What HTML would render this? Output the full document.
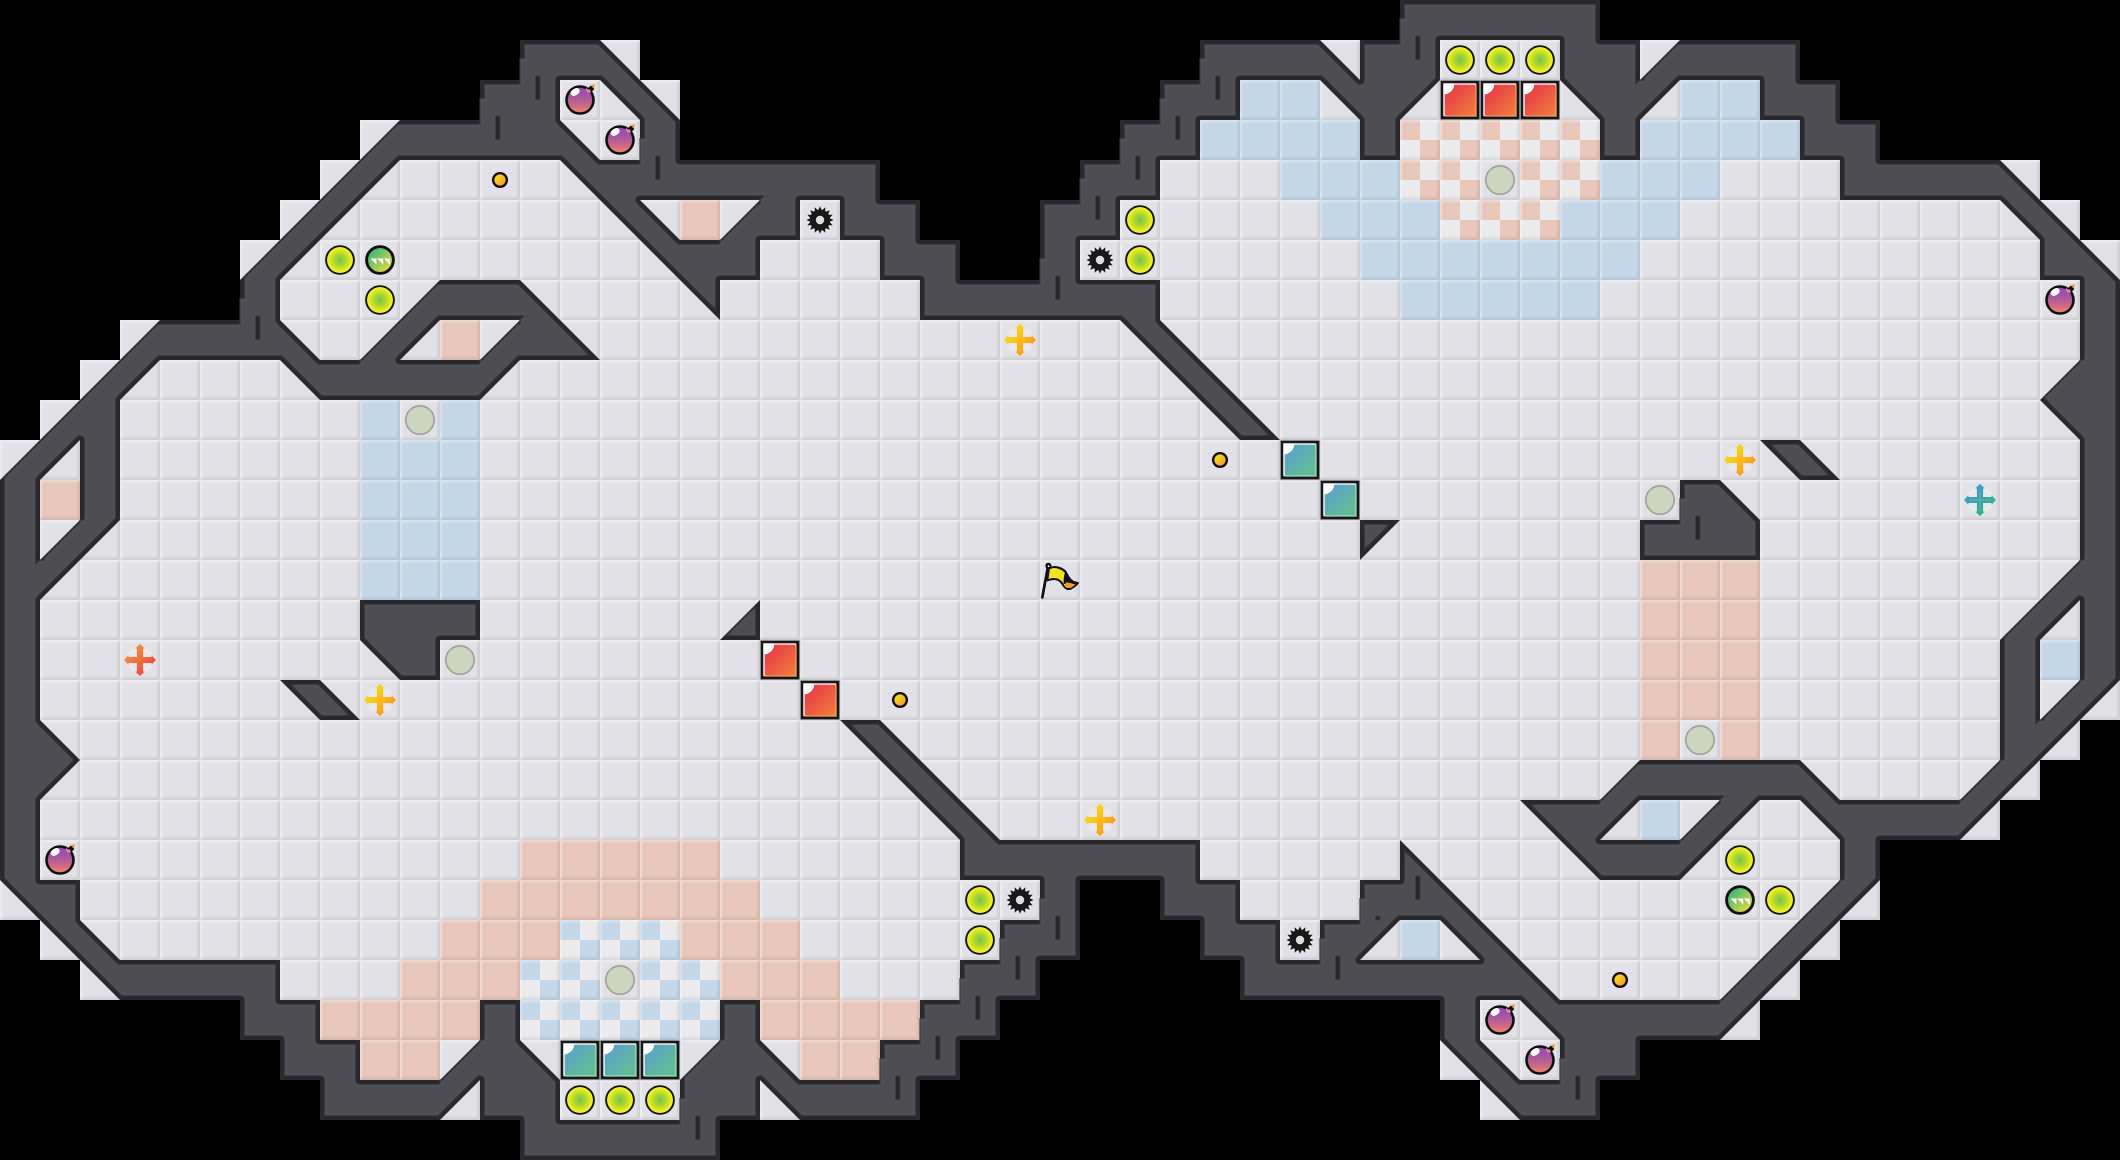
<!DOCTYPE html>
<html lang="en"><head><meta charset="utf-8"><title>Map</title>
<style>html,body{margin:0;padding:0;background:#000;overflow:hidden}svg{display:block}</style></head><body>
<svg width="2120" height="1160" viewBox="0 0 2120 1160">
<defs>
<linearGradient id="bl" x1="0" y1="0" x2="1" y2="0"><stop offset="0" stop-color="#fff" stop-opacity=".42"/><stop offset="1" stop-color="#fff" stop-opacity="0"/></linearGradient>
<linearGradient id="bt" x1="0" y1="0" x2="0" y2="1"><stop offset="0" stop-color="#fff" stop-opacity=".42"/><stop offset="1" stop-color="#fff" stop-opacity="0"/></linearGradient>
<linearGradient id="br" x1="0" y1="0" x2="1" y2="0"><stop offset="0" stop-color="#1e1e46" stop-opacity="0"/><stop offset="1" stop-color="#1e1e46" stop-opacity=".13"/></linearGradient>
<linearGradient id="bb" x1="0" y1="0" x2="0" y2="1"><stop offset="0" stop-color="#1e1e46" stop-opacity="0"/><stop offset="1" stop-color="#1e1e46" stop-opacity=".13"/></linearGradient>
<g id="bev">
<path d="M0,0H40L38,2H2z" fill="#fff" fill-opacity=".30"/>
<path d="M2,2H38L37,3H3z" fill="#fff" fill-opacity=".12"/>
<path d="M0,0L2,2V38L0,40z" fill="#fff" fill-opacity=".30"/>
<path d="M2,2L3,3V37L2,38z" fill="#fff" fill-opacity=".12"/>
<path d="M0,40H40L37.6,37.6H2.4z" fill="#16162a" fill-opacity=".078"/>
<path d="M2.4,37.6H37.6L36.6,36.6H3.4z" fill="#16162a" fill-opacity=".03"/>
<path d="M40,0V40L37.6,37.6V2.4z" fill="#16162a" fill-opacity=".078"/>
<path d="M37.6,2.4V37.6L36.6,36.6V3.4z" fill="#16162a" fill-opacity=".03"/>
<rect x="7.5" y="7.5" width="26" height="26" fill="none" stroke="#fff" stroke-opacity=".05" stroke-width="1"/>
</g>
<pattern id="pf" width="40" height="40" patternUnits="userSpaceOnUse"><rect width="40" height="40" fill="#e2e1e7"/><use href="#bev"/></pattern>
<pattern id="pb" width="40" height="40" patternUnits="userSpaceOnUse"><rect width="40" height="40" fill="#c3d7e8"/><use href="#bev"/></pattern>
<pattern id="pp" width="40" height="40" patternUnits="userSpaceOnUse"><rect width="40" height="40" fill="#e8c7ba"/><use href="#bev"/></pattern>
<pattern id="pc" width="40" height="40" patternUnits="userSpaceOnUse"><rect width="40" height="40" fill="#ebebed"/><rect width="20" height="20" fill="#e8c7ba"/><rect x="20" y="20" width="20" height="20" fill="#e8c7ba"/><use href="#bev"/></pattern>
<pattern id="pk" width="40" height="40" patternUnits="userSpaceOnUse"><rect width="40" height="40" fill="#ebebed"/><rect width="20" height="20" fill="#c3d7e8"/><rect x="20" y="20" width="20" height="20" fill="#c3d7e8"/><use href="#bev"/></pattern>
<radialGradient id="gy"><stop offset="0" stop-color="#6cc644"/><stop offset=".45" stop-color="#b4d832"/><stop offset=".85" stop-color="#eef020"/><stop offset="1" stop-color="#f6f61a"/></radialGradient>
<linearGradient id="gg" x1="0" y1="0" x2="1" y2="1"><stop offset=".1" stop-color="#2cb67c"/><stop offset=".5" stop-color="#8cc860"/><stop offset=".9" stop-color="#f4d640"/></linearGradient>
<linearGradient id="gr" x1="0" y1="0" x2="1" y2="1"><stop offset="0" stop-color="#e62e4c"/><stop offset="1" stop-color="#f2803a"/></linearGradient>
<linearGradient id="gb" x1="0" y1="0" x2="1" y2="1"><stop offset="0" stop-color="#5a9cd6"/><stop offset="1" stop-color="#64c488"/></linearGradient>
<linearGradient id="gbomb" x1="0" y1="0" x2="0" y2="1"><stop offset=".1" stop-color="#9648b4"/><stop offset=".5" stop-color="#b25c96"/><stop offset="1" stop-color="#f48468"/></linearGradient>
<linearGradient id="gcoin" x1="0" y1="0" x2="1" y2="1"><stop offset=".15" stop-color="#f4e41c"/><stop offset=".85" stop-color="#f59a30"/></linearGradient>
<linearGradient id="gya" x1="0" y1="0" x2="1" y2="1"><stop offset=".2" stop-color="#f2e01c"/><stop offset=".8" stop-color="#ff981c"/></linearGradient>
<linearGradient id="gta" x1="0" y1="0" x2="1" y2="1"><stop offset=".2" stop-color="#3a9ccc"/><stop offset=".8" stop-color="#2cba7c"/></linearGradient>
<linearGradient id="goa" x1="0" y1="0" x2="1" y2="1"><stop offset=".2" stop-color="#f4903c"/><stop offset=".8" stop-color="#ee4a44"/></linearGradient>
<g id="yball"><circle r="13.9" fill="url(#gy)" stroke="#121018" stroke-width="1.9"/></g>
<g id="gball"><circle r="13.4" fill="url(#gg)" stroke="#121212" stroke-width="2.9"/><path d="M-9.5,-1.6h6v6zM-2.8,-1.6h6v6zM3.9,-1.6h6v6z" fill="#fff"/></g>
<g id="ghost"><circle r="14.2" fill="#cbd5bd" stroke="#a2a69f" stroke-width="1.8"/></g>
<g id="coin"><circle r="6.9" fill="url(#gcoin)" stroke="#120e14" stroke-width="2.4"/></g>
<g id="bomb"><rect x="11.6" y="-15.6" width="3" height="3" fill="#f59a20"/><path d="M7.2,-11.2l3.6,-3.4l3.6,3.6l-3.4,3.6z" fill="#101210"/><circle r="13.5" fill="url(#gbomb)" stroke="#101210" stroke-width="2.6"/><ellipse cx="-4.8" cy="-8" rx="4.8" ry="3.2" fill="#fff" transform="rotate(-32 -4.8 -8)"/><circle cx="8.8" cy="-8.8" r="1.9" fill="#f07aa8"/><circle cx="6.6" cy="-10.4" r="1" fill="#f6a8c8"/></g>
<g id="gear"><path d="M0.00,-13.70 1.87,-9.42 5.24,-12.66 5.33,-7.98 9.69,-9.69 7.98,-5.33 12.66,-5.24 9.42,-1.87 13.70,0.00 9.42,1.87 12.66,5.24 7.98,5.33 9.69,9.69 5.33,7.98 5.24,12.66 1.87,9.42 0.00,13.70 -1.87,9.42 -5.24,12.66 -5.33,7.98 -9.69,9.69 -7.98,5.33 -12.66,5.24 -9.42,1.87 -13.70,0.00 -9.42,-1.87 -12.66,-5.24 -7.98,-5.33 -9.69,-9.69 -5.33,-7.98 -5.24,-12.66 -1.87,-9.42Z" fill="#181818"/><circle r="10.4" fill="#181818"/><circle r="4.2" fill="#e0e0e4"/></g>
<g id="blk"><rect x="-19.3" y="-19.3" width="38.6" height="38.6" fill="#18181a"/><rect x="-19.6" y="-19.6" width="39.2" height="39.2" fill="none" stroke="#555" stroke-opacity=".35" stroke-width="1.2"/></g>
<g id="rblock"><use href="#blk"/><rect x="-16.2" y="-16.2" width="32.4" height="32.4" fill="url(#gr)"/><path d="M-16,16v-32h32" fill="none" stroke="#fff" stroke-width="1.6" stroke-opacity=".85"/><path d="M-16,16h32v-32" fill="none" stroke="#ffb070" stroke-width="1.6" stroke-opacity=".6"/><path d="M-16.2,-16.2h10.6a10.6,10.6 0 0 1 -10.6,10.6z" fill="#fff"/></g>
<g id="bblock"><use href="#blk"/><rect x="-16.2" y="-16.2" width="32.4" height="32.4" fill="url(#gb)"/><path d="M-16,16v-32h32" fill="none" stroke="#fff" stroke-width="1.6" stroke-opacity=".85"/><path d="M-16,16h32v-32" fill="none" stroke="#b8f0d0" stroke-width="1.6" stroke-opacity=".6"/><path d="M-16.2,-16.2h10.6a10.6,10.6 0 0 1 -10.6,10.6z" fill="#fff"/></g>
<g id="halo"><circle r="13" fill="#fff" fill-opacity=".28"/></g>
<g id="yarrow"><use href="#halo"/><path d="M-3.10,-3.10 -3.10,-11.60 -4.80,-11.60 0.00,-15.90 4.80,-11.60 3.10,-11.60 3.10,-3.10 3.10,-3.10 11.60,-3.10 11.60,-4.80 15.90,-0.00 11.60,4.80 11.60,3.10 3.10,3.10 3.10,3.10 3.10,11.60 4.80,11.60 0.00,15.90 -4.80,11.60 -3.10,11.60 -3.10,3.10 -3.10,3.10 -11.60,3.10 -11.60,4.80 -15.90,0.00 -11.60,-4.80 -11.60,-3.10 -3.10,-3.10Z" fill="url(#gya)"/></g>
<g id="tarrow"><use href="#halo"/><path d="M-3.10,-3.10 -3.10,-11.60 -4.80,-11.60 0.00,-15.90 4.80,-11.60 3.10,-11.60 3.10,-3.10 3.10,-3.10 11.60,-3.10 11.60,-4.80 15.90,-0.00 11.60,4.80 11.60,3.10 3.10,3.10 3.10,3.10 3.10,11.60 4.80,11.60 0.00,15.90 -4.80,11.60 -3.10,11.60 -3.10,3.10 -3.10,3.10 -11.60,3.10 -11.60,4.80 -15.90,0.00 -11.60,-4.80 -11.60,-3.10 -3.10,-3.10Z" fill="url(#gta)"/><path d="M0,-11v22M-11,0h22" stroke="#8a9ab8" stroke-width="1.6" stroke-opacity=".7" fill="none"/></g>
<g id="oarrow"><use href="#halo"/><path d="M-3.10,-3.10 -3.10,-11.60 -4.80,-11.60 0.00,-15.90 4.80,-11.60 3.10,-11.60 3.10,-3.10 3.10,-3.10 11.60,-3.10 11.60,-4.80 15.90,-0.00 11.60,4.80 11.60,3.10 3.10,3.10 3.10,3.10 3.10,11.60 4.80,11.60 0.00,15.90 -4.80,11.60 -3.10,11.60 -3.10,3.10 -3.10,3.10 -11.60,3.10 -11.60,4.80 -15.90,0.00 -11.60,-4.80 -11.60,-3.10 -3.10,-3.10Z" fill="url(#goa)"/></g>
<g id="flag"><path d="M-17.9,18.6L-12.2,-12.5" stroke="#0c0c0c" stroke-width="2.6" fill="none"/><circle cx="-11.6" cy="-14.2" r="3" fill="#0c0c0c"/><circle cx="-11.4" cy="-13.8" r=".9" fill="#fff"/>
<path d="M-11,-11.4C-8,-13 -5,-13.2 -2,-12.5C2,-11.5 4.5,-9.5 5.8,-7.8C7,-6 7.8,-4 8.8,-2.6C10,-0.6 11.5,.9 13.1,1.7C14.6,2.4 16,2.8 17.8,3C15.8,5.4 13.5,7.4 10.9,8.6C9.4,9.2 7.8,9.2 6.6,8.6C5.2,7.9 4.4,7 3.6,6C2.6,4.6 1.6,2.6 .2,1.3C-1.8,-.4 -4,-1 -6.3,-.9C-8.6,-.8 -10.8,-.4 -12.8,.4z" fill="#f2e41c" stroke="#100c1c" stroke-width="2" stroke-linejoin="round"/>
<path d="M5.8,-7.8C7,-6 7.8,-4 8.8,-2.6C10,-0.6 11.5,.9 13.1,1.7C14.6,2.4 16,2.8 17.8,3L15.3,4.6L7,2.4L4.3,4z" fill="#15102a"/>
<path d="M6.6,2.6L15.2,4.7C13.6,6 12.4,6.9 10.6,7.7C9.4,8.2 8,8.2 7,7.7C6,7.2 5.2,6.2 4.6,5.4z" fill="#f59a20"/>
<path d="M5.8,-7.8C4.8,-4 4.4,0 4.4,4" stroke="#100c1c" stroke-width="1.8" fill="none"/>
</g>
</defs>
<rect width="2120" height="1160" fill="#000"/>
<path d="M600,40h40v40h-40zM1320,40h40v40h-40zM1440,40h120v40h-120zM1640,40h40v40h-40zM560,80h120v40h-120zM1320,80h40v40h-40zM1400,80h200v40h-200zM1640,80h40v40h-40zM360,120h40v40h-40zM560,120h80v40h-80zM320,160h280v40h-280zM1160,160h120v40h-120zM1480,160h40v40h-40zM1720,160h120v40h-120zM2000,160h40v40h-40zM280,200h400v40h-400zM720,200h40v40h-40zM800,200h40v40h-40zM1120,200h200v40h-200zM1680,200h400v40h-400zM240,240h440v40h-440zM760,240h120v40h-120zM1080,240h280v40h-280zM1640,240h400v40h-400zM2080,240h40v40h-40zM280,280h160v40h-160zM520,280h400v40h-400zM1160,280h240v40h-240zM1600,280h480v40h-480zM120,320h40v40h-40zM280,320h160v40h-160zM480,320h40v40h-40zM560,320h1520v40h-1520zM80,360h240v40h-240zM480,360h1600v40h-1600zM40,400h40v40h-40zM120,400h240v40h-240zM400,400h40v40h-40zM480,400h1600v40h-1600zM0,440h80v40h-80zM120,440h240v40h-240zM480,440h1600v40h-1600zM120,480h240v40h-240zM480,480h1200v40h-1200zM1720,480h360v40h-360zM40,520h320v40h-320zM480,520h1160v40h-1160zM1760,520h320v40h-320zM40,560h320v40h-320zM480,560h1160v40h-1160zM1760,560h320v40h-320zM40,600h320v40h-320zM480,600h1160v40h-1160zM1760,600h320v40h-320zM40,640h360v40h-360zM440,640h1200v40h-1200zM1760,640h240v40h-240zM40,680h1600v40h-1600zM1760,680h240v40h-240zM2040,680h80v40h-80zM40,720h1600v40h-1600zM1680,720h40v40h-40zM1760,720h240v40h-240zM2040,720h40v40h-40zM40,760h1600v40h-1600zM1800,760h240v40h-240zM40,800h1520v40h-1520zM1600,800h40v40h-40zM1680,800h160v40h-160zM1960,800h40v40h-40zM40,840h480v40h-480zM720,840h240v40h-240zM1200,840h400v40h-400zM1680,840h160v40h-160zM0,880h40v40h-40zM80,880h400v40h-400zM760,880h280v40h-280zM1240,880h120v40h-120zM1440,880h440v40h-440zM40,920h400v40h-400zM800,920h200v40h-200zM1280,920h40v40h-40zM1360,920h40v40h-40zM1440,920h400v40h-400zM80,960h40v40h-40zM280,960h120v40h-120zM600,960h40v40h-40zM840,960h120v40h-120zM1520,960h280v40h-280zM1480,1000h80v40h-80zM1720,1000h40v40h-40zM440,1040h40v40h-40zM520,1040h200v40h-200zM760,1040h40v40h-40zM1440,1040h120v40h-120zM440,1080h40v40h-40zM560,1080h120v40h-120zM760,1080h40v40h-40zM1480,1080h40v40h-40z" fill="url(#pf)"/>
<path d="M1240,80h80v40h-80zM1680,80h80v40h-80zM1200,120h160v40h-160zM1640,120h160v40h-160zM1280,160h120v40h-120zM1600,160h120v40h-120zM1320,200h120v40h-120zM1560,200h120v40h-120zM1360,240h280v40h-280zM1400,280h200v40h-200zM360,400h40v40h-40zM440,400h40v40h-40zM360,440h120v40h-120zM360,480h120v40h-120zM360,520h120v40h-120zM360,560h120v40h-120zM2040,640h40v40h-40zM1640,800h40v40h-40zM1400,920h40v40h-40z" fill="url(#pb)"/>
<path d="M680,200h40v40h-40zM440,320h40v40h-40zM40,480h40v40h-40zM1640,560h120v40h-120zM1640,600h120v40h-120zM1640,640h120v40h-120zM1640,680h120v40h-120zM1640,720h40v40h-40zM1720,720h40v40h-40zM520,840h200v40h-200zM480,880h280v40h-280zM440,920h120v40h-120zM680,920h120v40h-120zM400,960h120v40h-120zM720,960h120v40h-120zM320,1000h160v40h-160zM760,1000h160v40h-160zM360,1040h80v40h-80zM800,1040h80v40h-80z" fill="url(#pp)"/>
<path d="M1400,120h200v40h-200zM1400,160h80v40h-80zM1520,160h80v40h-80zM1440,200h120v40h-120z" fill="url(#pc)"/>
<path d="M560,920h120v40h-120zM520,960h80v40h-80zM640,960h80v40h-80zM520,1000h200v40h-200z" fill="url(#pk)"/>
<path d="M160,320 120,360 80,400 40,440 0,480 0,520 0,560 0,600 0,640 0,680 0,720 0,760 0,800 0,840 0,880 40,920 80,960 120,1000 160,1000 200,1000 240,1000 240,1040 280,1040 280,1080 320,1080 320,1120 360,1120 400,1120 440,1120 480,1080 480,1120 520,1120 520,1160 560,1160 600,1160 640,1160 680,1160 720,1160 720,1120 760,1120 760,1080 800,1120 840,1120 880,1120 920,1120 920,1080 960,1080 960,1040 1000,1040 1000,1000 1040,1000 1040,960 1080,960 1080,920 1080,880 1120,880 1160,880 1160,920 1200,920 1200,960 1240,960 1240,1000 1280,1000 1320,1000 1360,1000 1400,1000 1440,1000 1440,1040 1480,1080 1520,1120 1560,1120 1600,1120 1600,1080 1640,1080 1640,1040 1680,1040 1720,1040 1760,1000 1800,960 1840,920 1880,880 1880,840 1920,840 1960,840 2000,800 2040,760 2080,720 2120,680 2120,640 2120,600 2120,560 2120,520 2120,480 2120,440 2120,400 2120,360 2120,320 2120,280 2080,240 2040,200 2000,160 1960,160 1920,160 1880,160 1880,120 1840,120 1840,80 1800,80 1800,40 1760,40 1720,40 1680,40 1640,80 1640,40 1600,40 1600,0 1560,0 1520,0 1480,0 1440,0 1400,0 1400,40 1360,40 1360,80 1320,40 1280,40 1240,40 1200,40 1200,80 1160,80 1160,120 1120,120 1120,160 1080,160 1080,200 1040,200 1040,240 1040,280 1000,280 960,280 960,240 920,240 920,200 880,200 880,160 840,160 800,160 760,160 720,160 680,160 680,120 640,80 600,40 560,40 520,40 520,80 480,80 480,120 440,120 400,120 360,160 320,200 280,240 240,280 240,320 200,320ZM640,1120 600,1120 560,1120 560,1080 520,1040 520,1000 480,1000 480,1040 440,1080 400,1080 360,1080 360,1040 320,1040 320,1000 280,1000 280,960 240,960 200,960 160,960 120,960 80,920 80,880 40,880 40,840 40,800 80,760 40,720 40,680 40,640 40,600 80,560 120,520 120,480 120,440 120,400 160,360 200,360 240,360 280,360 320,400 360,400 400,400 440,400 480,400 520,360 560,360 600,360 560,320 520,280 480,280 440,280 400,320 360,360 320,360 280,320 280,280 320,240 360,200 400,160 440,160 480,160 520,160 560,160 600,200 640,240 680,280 720,320 720,280 760,280 760,240 800,240 800,200 840,200 840,240 880,240 880,280 920,280 920,320 960,320 1000,320 1040,320 1080,320 1120,320 1160,360 1200,400 1240,440 1280,440 1240,400 1200,360 1160,320 1160,280 1120,280 1080,280 1080,240 1120,240 1120,200 1160,200 1160,160 1200,160 1200,120 1240,120 1240,80 1280,80 1320,80 1360,120 1360,160 1400,160 1400,120 1440,80 1440,40 1480,40 1520,40 1560,40 1560,80 1600,120 1600,160 1640,160 1640,120 1680,80 1720,80 1760,80 1760,120 1800,120 1800,160 1840,160 1840,200 1880,200 1920,200 1960,200 2000,200 2040,240 2040,280 2080,280 2080,320 2080,360 2040,400 2080,440 2080,480 2080,520 2080,560 2040,600 2000,640 2000,680 2000,720 2000,760 1960,800 1920,800 1880,800 1840,800 1800,760 1760,760 1720,760 1680,760 1640,760 1600,800 1560,800 1520,800 1560,840 1600,880 1640,880 1680,880 1720,840 1760,800 1800,800 1840,840 1840,880 1800,920 1760,960 1720,1000 1680,1000 1640,1000 1600,1000 1560,1000 1520,960 1480,920 1440,880 1400,840 1400,880 1360,880 1360,920 1320,920 1320,960 1280,960 1280,920 1240,920 1240,880 1200,880 1200,840 1160,840 1120,840 1080,840 1040,840 1000,840 960,800 920,760 880,720 840,720 880,760 920,800 960,840 960,880 1000,880 1040,880 1040,920 1000,920 1000,960 960,960 960,1000 920,1000 920,1040 880,1040 880,1080 840,1080 800,1080 760,1040 760,1000 720,1000 720,1040 680,1080 680,1120ZM680,200 720,200 760,200 720,240 680,240 640,200ZM560,80 600,80 640,120 640,160 600,160 560,120ZM40,560 40,520 40,480 80,440 80,480 80,520ZM520,320 480,360 440,360 400,360 440,320 480,320ZM1520,1000 1560,1040 1560,1080 1520,1080 1480,1040 1480,1000ZM1360,960 1400,920 1440,920 1480,960 1440,960 1400,960ZM1600,840 1640,800 1680,800 1720,800 1680,840 1640,840ZM2040,720 2040,680 2040,640 2080,600 2080,640 2080,680ZM320,680 280,680 320,720 360,720ZM440,680 440,640 480,640 480,600 440,600 400,600 360,600 360,640 400,680ZM760,640 760,600 720,640ZM1360,520 1360,560 1400,520ZM1840,480 1800,440 1760,440 1800,480ZM1760,560 1760,520 1720,480 1680,480 1680,520 1640,520 1640,560 1680,560 1720,560Z" fill="#29292d" fill-rule="evenodd"/>
<path d="M1400,40 1400,44.5 1364.5,44.5 1364.5,80 1364.35,81.16 1363.9,82.25 1363.18,83.18 1362.25,83.9 1361.16,84.35 1360,84.5 1358.84,84.35 1357.75,83.9 1356.82,83.18 1318.14,44.5 1280,44.5 1240,44.5 1204.5,44.5 1204.5,58.5 1200,58.5 1200,80 1200,84.5 1164.5,84.5 1164.5,98.5 1160,98.5 1160,120 1160,124.5 1124.5,124.5 1124.5,138.5 1120,138.5 1120,160 1120,164.5 1084.5,164.5 1084.5,178.5 1080,178.5 1080,200 1080,204.5 1044.5,204.5 1044.5,240 1044.5,258.5 1040,258.5 1040,280 1040,284.5 1000,284.5 960,284.5 958.84,284.35 957.75,283.9 956.82,283.18 956.1,282.25 955.65,281.16 955.5,280 955.5,244.5 920,244.5 918.84,244.35 917.75,243.9 916.82,243.18 916.1,242.25 915.65,241.16 915.5,240 915.5,204.5 880,204.5 878.84,204.35 877.75,203.9 876.82,203.18 876.1,202.25 875.65,201.16 875.5,200 875.5,164.5 840,164.5 800,164.5 760,164.5 720,164.5 680,164.5 678.84,164.35 677.75,163.9 676.82,163.18 676.1,162.25 675.65,161.16 675.5,160 675.5,121.86 636.82,83.18 598.14,44.5 560,44.5 524.5,44.5 524.5,58.5 520,58.5 520,80 520,84.5 484.5,84.5 484.5,98.5 480,98.5 480,120 480,124.5 440,124.5 400,124.5 397.76,124.5 361.13,161.13 321.13,201.13 281.13,241.13 244.5,277.76 244.5,280 244.5,298.5 240,298.5 240,320 240,324.5 200,324.5 160,324.5 157.76,324.5 121.13,361.13 81.13,401.13 41.13,441.13 4.5,477.76 4.5,480 4.5,520 4.5,560 4.5,600 4.5,640 4.5,680 4.5,720 4.5,760 4.5,800 4.5,840 4.5,878.14 43.18,916.82 83.18,956.82 121.86,995.5 160,995.5 200,995.5 240,995.5 241.16,995.65 242.25,996.1 243.18,996.82 243.9,997.75 244.35,998.84 244.5,1000 244.5,1035.5 280,1035.5 281.16,1035.65 282.25,1036.1 283.18,1036.82 283.9,1037.75 284.35,1038.84 284.5,1040 284.5,1075.5 320,1075.5 321.16,1075.65 322.25,1076.1 323.18,1076.82 323.9,1077.75 324.35,1078.84 324.5,1080 324.5,1115.5 360,1115.5 400,1115.5 438.14,1115.5 476.82,1076.82 477.75,1076.1 478.84,1075.65 480,1075.5 481.16,1075.65 482.25,1076.1 483.18,1076.82 483.9,1077.75 484.35,1078.84 484.5,1080 484.5,1115.5 520,1115.5 521.16,1115.65 522.25,1116.1 523.18,1116.82 523.9,1117.75 524.35,1118.84 524.5,1120 524.5,1155.5 560,1155.5 600,1155.5 640,1155.5 680,1155.5 715.5,1155.5 715.5,1120 715.65,1118.84 716.1,1117.75 716.82,1116.82 717.75,1116.1 718.84,1115.65 720,1115.5 755.5,1115.5 755.5,1080 755.65,1078.84 756.1,1077.75 756.82,1076.82 757.75,1076.1 758.84,1075.65 760,1075.5 761.16,1075.65 762.25,1076.1 763.18,1076.82 801.86,1115.5 840,1115.5 880,1115.5 915.5,1115.5 915.5,1080 915.65,1078.84 916.1,1077.75 916.82,1076.82 917.75,1076.1 918.84,1075.65 920,1075.5 955.5,1075.5 955.5,1040 955.65,1038.84 956.1,1037.75 956.82,1036.82 957.75,1036.1 958.84,1035.65 960,1035.5 995.5,1035.5 995.5,1000 995.65,998.84 996.1,997.75 996.82,996.82 997.75,996.1 998.84,995.65 1000,995.5 1035.5,995.5 1035.5,960 1035.65,958.84 1036.1,957.75 1036.82,956.82 1037.75,956.1 1038.84,955.65 1040,955.5 1075.5,955.5 1075.5,920 1075.5,880 1075.65,878.84 1076.1,877.75 1076.82,876.82 1077.75,876.1 1078.84,875.65 1080,875.5 1120,875.5 1160,875.5 1161.16,875.65 1162.25,876.1 1163.18,876.82 1163.9,877.75 1164.35,878.84 1164.5,880 1164.5,915.5 1200,915.5 1201.16,915.65 1202.25,916.1 1203.18,916.82 1203.9,917.75 1204.35,918.84 1204.5,920 1204.5,955.5 1240,955.5 1241.16,955.65 1242.25,956.1 1243.18,956.82 1243.9,957.75 1244.35,958.84 1244.5,960 1244.5,995.5 1280,995.5 1320,995.5 1360,995.5 1400,995.5 1440,995.5 1441.16,995.65 1442.25,996.1 1443.18,996.82 1443.9,997.75 1444.35,998.84 1444.5,1000 1444.5,1038.14 1483.18,1076.82 1521.86,1115.5 1560,1115.5 1595.5,1115.5 1595.5,1080 1595.65,1078.84 1596.1,1077.75 1596.82,1076.82 1597.75,1076.1 1598.84,1075.65 1600,1075.5 1635.5,1075.5 1635.5,1040 1635.65,1038.84 1636.1,1037.75 1636.82,1036.82 1637.75,1036.1 1638.84,1035.65 1640,1035.5 1680,1035.5 1718.14,1035.5 1756.82,996.82 1796.82,956.82 1836.82,916.82 1875.5,878.14 1875.5,840 1875.65,838.84 1876.1,837.75 1876.82,836.82 1877.75,836.1 1878.84,835.65 1880,835.5 1920,835.5 1958.14,835.5 1996.82,796.82 2036.82,756.82 2076.82,716.82 2115.5,678.14 2115.5,640 2115.5,600 2115.5,560 2115.5,520 2115.5,480 2115.5,440 2115.5,400 2115.5,360 2115.5,320 2115.5,281.86 2076.82,243.18 2036.82,203.18 1998.14,164.5 1960,164.5 1920,164.5 1880,164.5 1878.84,164.35 1877.75,163.9 1876.82,163.18 1876.1,162.25 1875.65,161.16 1875.5,160 1875.5,124.5 1840,124.5 1838.84,124.35 1837.75,123.9 1836.82,123.18 1836.1,122.25 1835.65,121.16 1835.5,120 1835.5,84.5 1800,84.5 1798.84,84.35 1797.75,83.9 1796.82,83.18 1796.1,82.25 1795.65,81.16 1795.5,80 1795.5,44.5 1760,44.5 1720,44.5 1680,44.5 1677.76,44.5 1644.5,77.76 1644.5,80 1642.26,80 1641.13,81.13 1640,80 1635.5,84.5 1635.5,80 1635.5,44.5 1600,44.5 1598.84,44.35 1597.75,43.9 1596.82,43.18 1596.1,42.25 1595.65,41.16 1595.5,40 1595.5,4.5 1560,4.5 1520,4.5 1480,4.5 1440,4.5 1404.5,4.5 1404.5,18.5 1400,18.5ZM1360,920 1360,924.5 1324.5,924.5 1324.5,938.5 1320,938.5 1320,960 1320,964.5 1280,964.5 1278.84,964.35 1277.75,963.9 1276.82,963.18 1276.1,962.25 1275.65,961.16 1275.5,960 1275.5,924.5 1240,924.5 1238.84,924.35 1237.75,923.9 1236.82,923.18 1236.1,922.25 1235.65,921.16 1235.5,920 1235.5,884.5 1200,884.5 1198.84,884.35 1197.75,883.9 1196.82,883.18 1196.1,882.25 1195.65,881.16 1195.5,880 1195.5,844.5 1160,844.5 1120,844.5 1080,844.5 1040,844.5 1000,844.5 998.84,844.35 997.75,843.9 996.82,843.18 956.82,803.18 916.82,763.18 878.14,724.5 850.86,724.5 883.18,756.82 923.18,796.82 963.18,836.82 963.9,837.75 964.35,838.84 964.5,840 964.5,875.5 1000,875.5 1040,875.5 1041.16,875.65 1042.25,876.1 1043.18,876.82 1043.9,877.75 1044.35,878.84 1044.5,880 1044.5,898.5 1040,898.5 1040,920 1040,924.5 1004.5,924.5 1004.5,938.5 1000,938.5 1000,960 1000,964.5 964.5,964.5 964.5,978.5 960,978.5 960,1000 960,1004.5 924.5,1004.5 924.5,1018.5 920,1018.5 920,1040 920,1044.5 884.5,1044.5 884.5,1058.5 880,1058.5 880,1080 880,1084.5 840,1084.5 800,1084.5 798.84,1084.35 797.75,1083.9 796.82,1083.18 756.82,1043.18 756.1,1042.25 755.65,1041.16 755.5,1040 755.5,1004.5 724.5,1004.5 724.5,1040 720,1040 721.13,1041.13 684.5,1077.76 684.5,1080 684.5,1098.5 680,1098.5 680,1120 680,1124.5 640,1124.5 600,1124.5 560,1124.5 558.84,1124.35 557.75,1123.9 556.82,1123.18 556.1,1122.25 555.65,1121.16 555.5,1120 555.5,1081.86 516.82,1043.18 516.1,1042.25 515.65,1041.16 515.5,1040 515.5,1004.5 484.5,1004.5 484.5,1040 480,1040 481.13,1041.13 441.13,1081.13 440,1080 440,1084.5 400,1084.5 360,1084.5 358.84,1084.35 357.75,1083.9 356.82,1083.18 356.1,1082.25 355.65,1081.16 355.5,1080 355.5,1044.5 320,1044.5 318.84,1044.35 317.75,1043.9 316.82,1043.18 316.1,1042.25 315.65,1041.16 315.5,1040 315.5,1004.5 280,1004.5 278.84,1004.35 277.75,1003.9 276.82,1003.18 276.1,1002.25 275.65,1001.16 275.5,1000 275.5,964.5 240,964.5 200,964.5 160,964.5 120,964.5 118.84,964.35 117.75,963.9 116.82,963.18 76.82,923.18 76.1,922.25 75.65,921.16 75.5,920 75.5,884.5 40,884.5 38.84,884.35 37.75,883.9 36.82,883.18 36.1,882.25 35.65,881.16 35.5,880 35.5,840 35.5,800 35.65,798.84 36.1,797.75 36.82,796.82 73.64,760 36.82,723.18 36.1,722.25 35.65,721.16 35.5,720 35.5,680 35.5,640 35.5,600 35.65,598.84 36.1,597.75 36.82,596.82 76.82,556.82 115.5,518.14 115.5,480 115.5,440 115.5,400 115.65,398.84 116.1,397.75 116.82,396.82 156.82,356.82 157.75,356.1 158.84,355.65 160,355.5 200,355.5 240,355.5 280,355.5 281.16,355.65 282.25,356.1 283.18,356.82 321.86,395.5 360,395.5 400,395.5 440,395.5 478.14,395.5 516.82,356.82 517.75,356.1 518.84,355.65 520,355.5 560,355.5 589.14,355.5 556.82,323.18 518.14,284.5 480,284.5 440,284.5 437.76,284.5 401.13,321.13 361.13,361.13 360,360 360,364.5 320,364.5 318.84,364.35 317.75,363.9 316.82,363.18 276.82,323.18 276.1,322.25 275.65,321.16 275.5,320 275.5,280 275.65,278.84 276.1,277.75 276.82,276.82 316.82,236.82 356.82,196.82 396.82,156.82 397.75,156.1 398.84,155.65 400,155.5 440,155.5 480,155.5 520,155.5 560,155.5 561.16,155.65 562.25,156.1 563.18,156.82 603.18,196.82 643.18,236.82 683.18,276.82 715.5,309.14 715.5,280 715.65,278.84 716.1,277.75 716.82,276.82 717.75,276.1 718.84,275.65 720,275.5 755.5,275.5 755.5,240 755.65,238.84 756.1,237.75 756.82,236.82 757.75,236.1 758.84,235.65 760,235.5 795.5,235.5 795.5,200 795.65,198.84 796.1,197.75 796.82,196.82 797.75,196.1 798.84,195.65 800,195.5 840,195.5 841.16,195.65 842.25,196.1 843.18,196.82 843.9,197.75 844.35,198.84 844.5,200 844.5,235.5 880,235.5 881.16,235.65 882.25,236.1 883.18,236.82 883.9,237.75 884.35,238.84 884.5,240 884.5,275.5 920,275.5 921.16,275.65 922.25,276.1 923.18,276.82 923.9,277.75 924.35,278.84 924.5,280 924.5,315.5 960,315.5 1000,315.5 1040,315.5 1080,315.5 1120,315.5 1121.16,315.65 1122.25,316.1 1123.18,316.82 1163.18,356.82 1203.18,396.82 1241.86,435.5 1269.14,435.5 1236.82,403.18 1196.82,363.18 1156.82,323.18 1156.1,322.25 1155.65,321.16 1155.5,320 1155.5,284.5 1120,284.5 1080,284.5 1078.84,284.35 1077.75,283.9 1076.82,283.18 1076.1,282.25 1075.65,281.16 1075.5,280 1075.5,240 1075.65,238.84 1076.1,237.75 1076.82,236.82 1077.75,236.1 1078.84,235.65 1080,235.5 1115.5,235.5 1115.5,200 1115.65,198.84 1116.1,197.75 1116.82,196.82 1117.75,196.1 1118.84,195.65 1120,195.5 1155.5,195.5 1155.5,160 1155.65,158.84 1156.1,157.75 1156.82,156.82 1157.75,156.1 1158.84,155.65 1160,155.5 1195.5,155.5 1195.5,120 1195.65,118.84 1196.1,117.75 1196.82,116.82 1197.75,116.1 1198.84,115.65 1200,115.5 1235.5,115.5 1235.5,80 1235.65,78.84 1236.1,77.75 1236.82,76.82 1237.75,76.1 1238.84,75.65 1240,75.5 1280,75.5 1320,75.5 1321.16,75.65 1322.25,76.1 1323.18,76.82 1363.18,116.82 1363.9,117.75 1364.35,118.84 1364.5,120 1364.5,155.5 1395.5,155.5 1395.5,120 1395.65,118.84 1396.1,117.75 1396.82,116.82 1435.5,78.14 1435.5,40 1435.65,38.84 1436.1,37.75 1436.82,36.82 1437.75,36.1 1438.84,35.65 1440,35.5 1480,35.5 1520,35.5 1560,35.5 1561.16,35.65 1562.25,36.1 1563.18,36.82 1563.9,37.75 1564.35,38.84 1564.5,40 1564.5,78.14 1603.18,116.82 1603.9,117.75 1604.35,118.84 1604.5,120 1604.5,155.5 1635.5,155.5 1635.5,120 1635.65,118.84 1636.1,117.75 1636.82,116.82 1676.82,76.82 1677.75,76.1 1678.84,75.65 1680,75.5 1720,75.5 1760,75.5 1761.16,75.65 1762.25,76.1 1763.18,76.82 1763.9,77.75 1764.35,78.84 1764.5,80 1764.5,115.5 1800,115.5 1801.16,115.65 1802.25,116.1 1803.18,116.82 1803.9,117.75 1804.35,118.84 1804.5,120 1804.5,155.5 1840,155.5 1841.16,155.65 1842.25,156.1 1843.18,156.82 1843.9,157.75 1844.35,158.84 1844.5,160 1844.5,195.5 1880,195.5 1920,195.5 1960,195.5 2000,195.5 2001.16,195.65 2002.25,196.1 2003.18,196.82 2043.18,236.82 2043.9,237.75 2044.35,238.84 2044.5,240 2044.5,275.5 2080,275.5 2081.16,275.65 2082.25,276.1 2083.18,276.82 2083.9,277.75 2084.35,278.84 2084.5,280 2084.5,320 2084.5,360 2080,360 2081.13,361.13 2044.31,397.95 2083.18,436.82 2083.9,437.75 2084.35,438.84 2084.5,440 2084.5,480 2084.5,520 2084.5,560 2080,560 2081.13,561.13 2041.13,601.13 2004.5,637.76 2004.5,640 2004.5,680 2004.5,720 2004.5,760 2000,760 2001.13,761.13 1961.13,801.13 1960,800 1960,804.5 1920,804.5 1880,804.5 1840,804.5 1838.84,804.35 1837.75,803.9 1836.82,803.18 1798.14,764.5 1760,764.5 1720,764.5 1680,764.5 1640,764.5 1637.76,764.5 1601.13,801.13 1600,800 1600,804.5 1560,804.5 1530.86,804.5 1563.18,836.82 1601.86,875.5 1640,875.5 1678.14,875.5 1716.82,836.82 1756.82,796.82 1757.75,796.1 1758.84,795.65 1760,795.5 1800,795.5 1801.16,795.65 1802.25,796.1 1803.18,796.82 1843.18,836.82 1843.9,837.75 1844.35,838.84 1844.5,840 1844.5,880 1840,880 1841.13,881.13 1801.13,921.13 1761.13,961.13 1721.13,1001.13 1720,1000 1720,1004.5 1680,1004.5 1640,1004.5 1600,1004.5 1560,1004.5 1558.84,1004.35 1557.75,1003.9 1556.82,1003.18 1516.82,963.18 1476.82,923.18 1436.82,883.18 1404.5,850.86 1404.5,880 1404.35,881.16 1403.9,882.25 1403.18,883.18 1402.25,883.9 1401.16,884.35 1400,884.5 1364.5,884.5 1364.5,898.5 1360,898.5ZM640,160 640,164.5 600,164.5 598.84,164.35 597.75,163.9 596.82,163.18 556.82,123.18 556.1,122.25 555.65,121.16 555.5,120 555.5,80 555.65,78.84 556.1,77.75 556.82,76.82 557.75,76.1 558.84,75.65 560,75.5 600,75.5 601.16,75.65 602.25,76.1 603.18,76.82 643.18,116.82 643.9,117.75 644.35,118.84 644.5,120 644.5,138.5 640,138.5ZM1560,1080 1560,1084.5 1520,1084.5 1518.84,1084.35 1517.75,1083.9 1516.82,1083.18 1476.82,1043.18 1476.1,1042.25 1475.65,1041.16 1475.5,1040 1475.5,1000 1475.65,998.84 1476.1,997.75 1476.82,996.82 1477.75,996.1 1478.84,995.65 1480,995.5 1520,995.5 1521.16,995.65 1522.25,996.1 1523.18,996.82 1563.18,1036.82 1563.9,1037.75 1564.35,1038.84 1564.5,1040 1564.5,1058.5 1560,1058.5ZM35.5,564.5 35.5,560 35.5,520 35.5,480 35.65,478.84 36.1,477.75 36.82,476.82 76.82,436.82 77.75,436.1 78.84,435.65 80,435.5 81.16,435.65 82.25,436.1 83.18,436.82 83.9,437.75 84.35,438.84 84.5,440 84.5,480 84.5,520 80,520 81.13,521.13 44.5,557.76 44.5,560 42.26,560 41.13,561.13 40,560ZM480,364.5 440,364.5 400,364.5 398.84,364.35 397.75,363.9 396.82,363.18 396.1,362.25 395.65,361.16 395.5,360 395.65,358.84 396.1,357.75 396.82,356.82 436.82,316.82 437.75,316.1 438.84,315.65 440,315.5 480,315.5 520,315.5 524.5,315.5 520,320 521.13,321.13 520,322.26 520,324.5 517.76,324.5 481.13,361.13 480,360ZM720,244.5 680,244.5 678.84,244.35 677.75,243.9 676.82,243.18 636.82,203.18 636.1,202.25 635.65,201.16 635.5,200 635.65,198.84 636.1,197.75 636.82,196.82 637.75,196.1 638.84,195.65 640,195.5 680,195.5 720,195.5 760,195.5 764.5,195.5 760,200 761.13,201.13 760,202.26 760,204.5 757.76,204.5 721.13,241.13 720,240ZM1357.75,963.9 1356.82,963.18 1356.1,962.25 1355.65,961.16 1355.5,960 1355.65,958.84 1356.1,957.75 1356.82,956.82 1396.82,916.82 1397.75,916.1 1398.84,915.65 1400,915.5 1440,915.5 1441.16,915.65 1442.25,916.1 1443.18,916.82 1483.18,956.82 1483.9,957.75 1484.35,958.84 1484.5,960 1484.35,961.16 1483.9,962.25 1483.18,963.18 1482.25,963.9 1481.16,964.35 1480,964.5 1440,964.5 1400,964.5 1360,964.5 1358.84,964.35ZM1680,844.5 1640,844.5 1600,844.5 1598.84,844.35 1597.75,843.9 1596.82,843.18 1596.1,842.25 1595.65,841.16 1595.5,840 1595.65,838.84 1596.1,837.75 1596.82,836.82 1636.82,796.82 1637.75,796.1 1638.84,795.65 1640,795.5 1680,795.5 1720,795.5 1724.5,795.5 1720,800 1721.13,801.13 1720,802.26 1720,804.5 1717.76,804.5 1681.13,841.13 1680,840ZM2035.5,724.5 2035.5,720 2035.5,680 2035.5,640 2035.65,638.84 2036.1,637.75 2036.82,636.82 2076.82,596.82 2077.75,596.1 2078.84,595.65 2080,595.5 2081.16,595.65 2082.25,596.1 2083.18,596.82 2083.9,597.75 2084.35,598.84 2084.5,600 2084.5,640 2084.5,680 2080,680 2081.13,681.13 2044.5,717.76 2044.5,720 2042.26,720 2041.13,721.13 2040,720ZM1680,520 1680,524.5 1644.5,524.5 1644.5,555.5 1680,555.5 1720,555.5 1755.5,555.5 1755.5,521.86 1718.14,484.5 1684.5,484.5 1684.5,498.5 1680,498.5ZM321.86,715.5 349.14,715.5 318.14,684.5 290.86,684.5ZM438.84,635.65 440,635.5 475.5,635.5 475.5,604.5 440,604.5 400,604.5 364.5,604.5 364.5,638.14 401.86,675.5 435.5,675.5 435.5,640 435.65,638.84 436.1,637.75 436.82,636.82 437.75,636.1ZM755.5,606.76 726.76,635.5 755.5,635.5ZM1364.5,524.5 1364.5,549.14 1389.14,524.5ZM1801.86,475.5 1829.14,475.5 1798.14,444.5 1770.86,444.5Z" fill="#4e4d53" fill-rule="evenodd" stroke="#3b3a40" stroke-width="1.2" stroke-linejoin="round"/>
<path d="M1401.5,44.5 1401.39,45.07 1401.06,45.56 1400.57,45.89 1400,46 1366,46 1366,80 1365.99,80.2 1365.83,81.36 1365.73,81.74 1365.28,82.82 1365.09,83.16 1364.37,84.1 1364.1,84.37 1363.16,85.09 1362.82,85.28 1361.74,85.73 1361.36,85.83 1360.2,85.99 1359.8,85.99 1358.64,85.83 1358.26,85.73 1357.18,85.28 1356.84,85.09 1355.9,84.37 1355.76,84.24 1317.51,46 1206,46 1206,58.5 1205.89,59.07 1205.56,59.56 1205.07,59.89 1204.5,60 1201.5,60 1201.5,84.5 1201.39,85.07 1201.06,85.56 1200.57,85.89 1200,86 1166,86 1166,98.5 1165.89,99.07 1165.56,99.56 1165.07,99.89 1164.5,100 1161.5,100 1161.5,124.5 1161.39,125.07 1161.06,125.56 1160.57,125.89 1160,126 1126,126 1126,138.5 1125.89,139.07 1125.56,139.56 1125.07,139.89 1124.5,140 1121.5,140 1121.5,164.5 1121.39,165.07 1121.06,165.56 1120.57,165.89 1120,166 1086,166 1086,178.5 1085.89,179.07 1085.56,179.56 1085.07,179.89 1084.5,180 1081.5,180 1081.5,204.5 1081.39,205.07 1081.06,205.56 1080.57,205.89 1080,206 1046,206 1046,258.5 1045.89,259.07 1045.56,259.56 1045.07,259.89 1044.5,260 1041.5,260 1041.5,284.5 1041.39,285.07 1041.06,285.56 1040.57,285.89 1040,286 960,286 959.8,285.99 958.64,285.83 958.26,285.73 957.18,285.28 956.84,285.09 955.9,284.37 955.63,284.1 954.91,283.16 954.72,282.82 954.27,281.74 954.17,281.36 954.01,280.2 954,280 954,246 920,246 919.8,245.99 918.64,245.83 918.26,245.73 917.18,245.28 916.84,245.09 915.9,244.37 915.63,244.1 914.91,243.16 914.72,242.82 914.27,241.74 914.17,241.36 914.01,240.2 914,240 914,206 880,206 879.8,205.99 878.64,205.83 878.26,205.73 877.18,205.28 876.84,205.09 875.9,204.37 875.63,204.1 874.91,203.16 874.72,202.82 874.27,201.74 874.17,201.36 874.01,200.2 874,200 874,166 680,166 679.8,165.99 678.64,165.83 678.26,165.73 677.18,165.28 676.84,165.09 675.9,164.37 675.63,164.1 674.91,163.16 674.72,162.82 674.27,161.74 674.17,161.36 674.01,160.2 674,160 674,122.49 635.76,84.24 597.51,46 526,46 526,58.5 525.89,59.07 525.56,59.56 525.07,59.89 524.5,60 521.5,60 521.5,84.5 521.39,85.07 521.06,85.56 520.57,85.89 520,86 486,86 486,98.5 485.89,99.07 485.56,99.56 485.07,99.89 484.5,100 481.5,100 481.5,124.5 481.39,125.07 481.06,125.56 480.57,125.89 480,126 398.38,126 246,278.38 246,298.5 245.89,299.07 245.56,299.56 245.07,299.89 244.5,300 241.5,300 241.5,324.5 241.39,325.07 241.06,325.56 240.57,325.89 240,326 158.38,326 6,478.38 6,877.51 44.24,915.76 122.49,994 240,994 240.2,994.01 241.36,994.17 241.74,994.27 242.82,994.72 243.16,994.91 244.1,995.63 244.37,995.9 245.09,996.84 245.28,997.18 245.73,998.26 245.83,998.64 245.99,999.8 246,1000 246,1034 280,1034 280.2,1034.01 281.36,1034.17 281.74,1034.27 282.82,1034.72 283.16,1034.91 284.1,1035.63 284.37,1035.9 285.09,1036.84 285.28,1037.18 285.73,1038.26 285.83,1038.64 285.99,1039.8 286,1040 286,1074 320,1074 320.2,1074.01 321.36,1074.17 321.74,1074.27 322.82,1074.72 323.16,1074.91 324.1,1075.63 324.37,1075.9 325.09,1076.84 325.28,1077.18 325.73,1078.26 325.83,1078.64 325.99,1079.8 326,1080 326,1114 437.51,1114 475.76,1075.76 475.9,1075.63 476.84,1074.91 477.18,1074.72 478.26,1074.27 478.64,1074.17 479.8,1074.01 480.2,1074.01 481.36,1074.17 481.74,1074.27 482.82,1074.72 483.16,1074.91 484.1,1075.63 484.37,1075.9 485.09,1076.84 485.28,1077.18 485.73,1078.26 485.83,1078.64 485.99,1079.8 486,1080 486,1114 520,1114 520.2,1114.01 521.36,1114.17 521.74,1114.27 522.82,1114.72 523.16,1114.91 524.1,1115.63 524.37,1115.9 525.09,1116.84 525.28,1117.18 525.73,1118.26 525.83,1118.64 525.99,1119.8 526,1120 526,1154 714,1154 714,1120 714.01,1119.8 714.17,1118.64 714.27,1118.26 714.72,1117.18 714.91,1116.84 715.63,1115.9 715.9,1115.63 716.84,1114.91 717.18,1114.72 718.26,1114.27 718.64,1114.17 719.8,1114.01 720,1114 754,1114 754,1080 754.01,1079.8 754.17,1078.64 754.27,1078.26 754.72,1077.18 754.91,1076.84 755.63,1075.9 755.9,1075.63 756.84,1074.91 757.18,1074.72 758.26,1074.27 758.64,1074.17 759.8,1074.01 760.2,1074.01 761.36,1074.17 761.74,1074.27 762.82,1074.72 763.16,1074.91 764.1,1075.63 764.24,1075.76 802.49,1114 914,1114 914,1080 914.01,1079.8 914.17,1078.64 914.27,1078.26 914.72,1077.18 914.91,1076.84 915.63,1075.9 915.9,1075.63 916.84,1074.91 917.18,1074.72 918.26,1074.27 918.64,1074.17 919.8,1074.01 920,1074 954,1074 954,1040 954.01,1039.8 954.17,1038.64 954.27,1038.26 954.72,1037.18 954.91,1036.84 955.63,1035.9 955.9,1035.63 956.84,1034.91 957.18,1034.72 958.26,1034.27 958.64,1034.17 959.8,1034.01 960,1034 994,1034 994,1000 994.01,999.8 994.17,998.64 994.27,998.26 994.72,997.18 994.91,996.84 995.63,995.9 995.9,995.63 996.84,994.91 997.18,994.72 998.26,994.27 998.64,994.17 999.8,994.01 1000,994 1034,994 1034,960 1034.01,959.8 1034.17,958.64 1034.27,958.26 1034.72,957.18 1034.91,956.84 1035.63,955.9 1035.9,955.63 1036.84,954.91 1037.18,954.72 1038.26,954.27 1038.64,954.17 1039.8,954.01 1040,954 1074,954 1074,880 1074.01,879.8 1074.17,878.64 1074.27,878.26 1074.72,877.18 1074.91,876.84 1075.63,875.9 1075.9,875.63 1076.84,874.91 1077.18,874.72 1078.26,874.27 1078.64,874.17 1079.8,874.01 1080,874 1160,874 1160.2,874.01 1161.36,874.17 1161.74,874.27 1162.82,874.72 1163.16,874.91 1164.1,875.63 1164.37,875.9 1165.09,876.84 1165.28,877.18 1165.73,878.26 1165.83,878.64 1165.99,879.8 1166,880 1166,914 1200,914 1200.2,914.01 1201.36,914.17 1201.74,914.27 1202.82,914.72 1203.16,914.91 1204.1,915.63 1204.37,915.9 1205.09,916.84 1205.28,917.18 1205.73,918.26 1205.83,918.64 1205.99,919.8 1206,920 1206,954 1240,954 1240.2,954.01 1241.36,954.17 1241.74,954.27 1242.82,954.72 1243.16,954.91 1244.1,955.63 1244.37,955.9 1245.09,956.84 1245.28,957.18 1245.73,958.26 1245.83,958.64 1245.99,959.8 1246,960 1246,994 1440,994 1440.2,994.01 1441.36,994.17 1441.74,994.27 1442.82,994.72 1443.16,994.91 1444.1,995.63 1444.37,995.9 1445.09,996.84 1445.28,997.18 1445.73,998.26 1445.83,998.64 1445.99,999.8 1446,1000 1446,1037.51 1522.49,1114 1594,1114 1594,1080 1594.01,1079.8 1594.17,1078.64 1594.27,1078.26 1594.72,1077.18 1594.91,1076.84 1595.63,1075.9 1595.9,1075.63 1596.84,1074.91 1597.18,1074.72 1598.26,1074.27 1598.64,1074.17 1599.8,1074.01 1600,1074 1634,1074 1634,1040 1634.01,1039.8 1634.17,1038.64 1634.27,1038.26 1634.72,1037.18 1634.91,1036.84 1635.63,1035.9 1635.9,1035.63 1636.84,1034.91 1637.18,1034.72 1638.26,1034.27 1638.64,1034.17 1639.8,1034.01 1640,1034 1717.51,1034 1755.76,995.76 1874,877.51 1874,840 1874.01,839.8 1874.17,838.64 1874.27,838.26 1874.72,837.18 1874.91,836.84 1875.63,835.9 1875.9,835.63 1876.84,834.91 1877.18,834.72 1878.26,834.27 1878.64,834.17 1879.8,834.01 1880,834 1957.51,834 1995.76,795.76 2114,677.51 2114,282.49 2075.76,244.24 2035.76,204.24 1997.51,166 1880,166 1879.8,165.99 1878.64,165.83 1878.26,165.73 1877.18,165.28 1876.84,165.09 1875.9,164.37 1875.63,164.1 1874.91,163.16 1874.72,162.82 1874.27,161.74 1874.17,161.36 1874.01,160.2 1874,160 1874,126 1840,126 1839.8,125.99 1838.64,125.83 1838.26,125.73 1837.18,125.28 1836.84,125.09 1835.9,124.37 1835.63,124.1 1834.91,123.16 1834.72,122.82 1834.27,121.74 1834.17,121.36 1834.01,120.2 1834,120 1834,86 1800,86 1799.8,85.99 1798.64,85.83 1798.26,85.73 1797.18,85.28 1796.84,85.09 1795.9,84.37 1795.63,84.1 1794.91,83.16 1794.72,82.82 1794.27,81.74 1794.17,81.36 1794.01,80.2 1794,80 1794,46 1678.38,46 1646,78.38 1646,80 1645.89,80.57 1645.56,81.06 1645.07,81.39 1644.5,81.5 1642.88,81.5 1642.19,82.19 1641.71,82.52 1641.13,82.63 1640.56,82.52 1640.07,82.19 1640,82.12 1636.56,85.56 1636.07,85.89 1635.5,86 1634.93,85.89 1634.44,85.56 1634.11,85.07 1634,84.5 1634,46 1600,46 1599.8,45.99 1598.64,45.83 1598.26,45.73 1597.18,45.28 1596.84,45.09 1595.9,44.37 1595.63,44.1 1594.91,43.16 1594.72,42.82 1594.27,41.74 1594.17,41.36 1594.01,40.2 1594,40 1594,6 1406,6 1406,18.5 1405.89,19.07 1405.56,19.56 1405.07,19.89 1404.5,20 1401.5,20ZM361.5,362.56 361.5,364.5 361.39,365.07 361.06,365.56 360.57,365.89 360,366 320,366 319.8,365.99 318.64,365.83 318.26,365.73 317.18,365.28 316.84,365.09 315.9,364.37 315.76,364.24 275.76,324.24 275.63,324.1 274.91,323.16 274.72,322.82 274.27,321.74 274.17,321.36 274.01,320.2 274,320 274,280 274.01,279.8 274.17,278.64 274.27,278.26 274.72,277.18 274.91,276.84 275.63,275.9 275.76,275.76 315.76,235.76 395.76,155.76 395.9,155.63 396.84,154.91 397.18,154.72 398.26,154.27 398.64,154.17 399.8,154.01 400,154 560,154 560.2,154.01 561.36,154.17 561.74,154.27 562.82,154.72 563.16,154.91 564.1,155.63 564.24,155.76 644.24,235.76 684.24,275.76 714,305.51 714,280 714.01,279.8 714.17,278.64 714.27,278.26 714.72,277.18 714.91,276.84 715.63,275.9 715.9,275.63 716.84,274.91 717.18,274.72 718.26,274.27 718.64,274.17 719.8,274.01 720,274 754,274 754,240 754.01,239.8 754.17,238.64 754.27,238.26 754.72,237.18 754.91,236.84 755.63,235.9 755.9,235.63 756.84,234.91 757.18,234.72 758.26,234.27 758.64,234.17 759.8,234.01 760,234 794,234 794,200 794.01,199.8 794.17,198.64 794.27,198.26 794.72,197.18 794.91,196.84 795.63,195.9 795.9,195.63 796.84,194.91 797.18,194.72 798.26,194.27 798.64,194.17 799.8,194.01 800,194 840,194 840.2,194.01 841.36,194.17 841.74,194.27 842.82,194.72 843.16,194.91 844.1,195.63 844.37,195.9 845.09,196.84 845.28,197.18 845.73,198.26 845.83,198.64 845.99,199.8 846,200 846,234 880,234 880.2,234.01 881.36,234.17 881.74,234.27 882.82,234.72 883.16,234.91 884.1,235.63 884.37,235.9 885.09,236.84 885.28,237.18 885.73,238.26 885.83,238.64 885.99,239.8 886,240 886,274 920,274 920.2,274.01 921.36,274.17 921.74,274.27 922.82,274.72 923.16,274.91 924.1,275.63 924.37,275.9 925.09,276.84 925.28,277.18 925.73,278.26 925.83,278.64 925.99,279.8 926,280 926,314 1120,314 1120.2,314.01 1121.36,314.17 1121.74,314.27 1122.82,314.72 1123.16,314.91 1124.1,315.63 1124.24,315.76 1204.24,395.76 1242.49,434 1265.51,434 1235.76,404.24 1155.76,324.24 1155.63,324.1 1154.91,323.16 1154.72,322.82 1154.27,321.74 1154.17,321.36 1154.01,320.2 1154,320 1154,286 1080,286 1079.8,285.99 1078.64,285.83 1078.26,285.73 1077.18,285.28 1076.84,285.09 1075.9,284.37 1075.63,284.1 1074.91,283.16 1074.72,282.82 1074.27,281.74 1074.17,281.36 1074.01,280.2 1074,280 1074,240 1074.01,239.8 1074.17,238.64 1074.27,238.26 1074.72,237.18 1074.91,236.84 1075.63,235.9 1075.9,235.63 1076.84,234.91 1077.18,234.72 1078.26,234.27 1078.64,234.17 1079.8,234.01 1080,234 1114,234 1114,200 1114.01,199.8 1114.17,198.64 1114.27,198.26 1114.72,197.18 1114.91,196.84 1115.63,195.9 1115.9,195.63 1116.84,194.91 1117.18,194.72 1118.26,194.27 1118.64,194.17 1119.8,194.01 1120,194 1154,194 1154,160 1154.01,159.8 1154.17,158.64 1154.27,158.26 1154.72,157.18 1154.91,156.84 1155.63,155.9 1155.9,155.63 1156.84,154.91 1157.18,154.72 1158.26,154.27 1158.64,154.17 1159.8,154.01 1160,154 1194,154 1194,120 1194.01,119.8 1194.17,118.64 1194.27,118.26 1194.72,117.18 1194.91,116.84 1195.63,115.9 1195.9,115.63 1196.84,114.91 1197.18,114.72 1198.26,114.27 1198.64,114.17 1199.8,114.01 1200,114 1234,114 1234,80 1234.01,79.8 1234.17,78.64 1234.27,78.26 1234.72,77.18 1234.91,76.84 1235.63,75.9 1235.9,75.63 1236.84,74.91 1237.18,74.72 1238.26,74.27 1238.64,74.17 1239.8,74.01 1240,74 1320,74 1320.2,74.01 1321.36,74.17 1321.74,74.27 1322.82,74.72 1323.16,74.91 1324.1,75.63 1324.24,75.76 1364.24,115.76 1364.37,115.9 1365.09,116.84 1365.28,117.18 1365.73,118.26 1365.83,118.64 1365.99,119.8 1366,120 1366,154 1394,154 1394,120 1394.01,119.8 1394.17,118.64 1394.27,118.26 1394.72,117.18 1394.91,116.84 1395.63,115.9 1395.76,115.76 1434,77.51 1434,40 1434.01,39.8 1434.17,38.64 1434.27,38.26 1434.72,37.18 1434.91,36.84 1435.63,35.9 1435.9,35.63 1436.84,34.91 1437.18,34.72 1438.26,34.27 1438.64,34.17 1439.8,34.01 1440,34 1560,34 1560.2,34.01 1561.36,34.17 1561.74,34.27 1562.82,34.72 1563.16,34.91 1564.1,35.63 1564.37,35.9 1565.09,36.84 1565.28,37.18 1565.73,38.26 1565.83,38.64 1565.99,39.8 1566,40 1566,77.51 1604.24,115.76 1604.37,115.9 1605.09,116.84 1605.28,117.18 1605.73,118.26 1605.83,118.64 1605.99,119.8 1606,120 1606,154 1634,154 1634,120 1634.01,119.8 1634.17,118.64 1634.27,118.26 1634.72,117.18 1634.91,116.84 1635.63,115.9 1635.76,115.76 1675.76,75.76 1675.9,75.63 1676.84,74.91 1677.18,74.72 1678.26,74.27 1678.64,74.17 1679.8,74.01 1680,74 1760,74 1760.2,74.01 1761.36,74.17 1761.74,74.27 1762.82,74.72 1763.16,74.91 1764.1,75.63 1764.37,75.9 1765.09,76.84 1765.28,77.18 1765.73,78.26 1765.83,78.64 1765.99,79.8 1766,80 1766,114 1800,114 1800.2,114.01 1801.36,114.17 1801.74,114.27 1802.82,114.72 1803.16,114.91 1804.1,115.63 1804.37,115.9 1805.09,116.84 1805.28,117.18 1805.73,118.26 1805.83,118.64 1805.99,119.8 1806,120 1806,154 1840,154 1840.2,154.01 1841.36,154.17 1841.74,154.27 1842.82,154.72 1843.16,154.91 1844.1,155.63 1844.37,155.9 1845.09,156.84 1845.28,157.18 1845.73,158.26 1845.83,158.64 1845.99,159.8 1846,160 1846,194 2000,194 2000.2,194.01 2001.36,194.17 2001.74,194.27 2002.82,194.72 2003.16,194.91 2004.1,195.63 2004.24,195.76 2044.24,235.76 2044.37,235.9 2045.09,236.84 2045.28,237.18 2045.73,238.26 2045.83,238.64 2045.99,239.8 2046,240 2046,274 2080,274 2080.2,274.01 2081.36,274.17 2081.74,274.27 2082.82,274.72 2083.16,274.91 2084.1,275.63 2084.37,275.9 2085.09,276.84 2085.28,277.18 2085.73,278.26 2085.83,278.64 2085.99,279.8 2086,280 2086,360 2085.89,360.57 2085.56,361.06 2085.07,361.39 2084.5,361.5 2082.56,361.5 2082.52,361.71 2082.19,362.19 2046.43,397.95 2084.24,435.76 2084.37,435.9 2085.09,436.84 2085.28,437.18 2085.73,438.26 2085.83,438.64 2085.99,439.8 2086,440 2086,560 2085.89,560.57 2085.56,561.06 2085.07,561.39 2084.5,561.5 2082.56,561.5 2082.52,561.71 2082.19,562.19 2042.19,602.19 2006,638.38 2006,760 2005.89,760.57 2005.56,761.06 2005.07,761.39 2004.5,761.5 2002.56,761.5 2002.52,761.71 2002.19,762.19 1962.19,802.19 1961.71,802.52 1961.5,802.56 1961.5,804.5 1961.39,805.07 1961.06,805.56 1960.57,805.89 1960,806 1840,806 1839.8,805.99 1838.64,805.83 1838.26,805.73 1837.18,805.28 1836.84,805.09 1835.9,804.37 1835.76,804.24 1797.51,766 1638.38,766 1602.19,802.19 1601.71,802.52 1601.5,802.56 1601.5,804.5 1601.39,805.07 1601.06,805.56 1600.57,805.89 1600,806 1534.49,806 1564.24,835.76 1602.49,874 1677.51,874 1715.76,835.76 1755.76,795.76 1755.9,795.63 1756.84,794.91 1757.18,794.72 1758.26,794.27 1758.64,794.17 1759.8,794.01 1760,794 1800,794 1800.2,794.01 1801.36,794.17 1801.74,794.27 1802.82,794.72 1803.16,794.91 1804.1,795.63 1804.24,795.76 1844.24,835.76 1844.37,835.9 1845.09,836.84 1845.28,837.18 1845.73,838.26 1845.83,838.64 1845.99,839.8 1846,840 1846,880 1845.89,880.57 1845.56,881.06 1845.07,881.39 1844.5,881.5 1842.56,881.5 1842.52,881.71 1842.19,882.19 1722.19,1002.19 1721.71,1002.52 1721.5,1002.56 1721.5,1004.5 1721.39,1005.07 1721.06,1005.56 1720.57,1005.89 1720,1006 1560,1006 1559.8,1005.99 1558.64,1005.83 1558.26,1005.73 1557.18,1005.28 1556.84,1005.09 1555.9,1004.37 1555.76,1004.24 1406,854.49 1406,880 1405.99,880.2 1405.83,881.36 1405.73,881.74 1405.28,882.82 1405.09,883.16 1404.37,884.1 1404.1,884.37 1403.16,885.09 1402.82,885.28 1401.74,885.73 1401.36,885.83 1400.2,885.99 1400,886 1366,886 1366,898.5 1365.89,899.07 1365.56,899.56 1365.07,899.89 1364.5,900 1361.5,900 1361.5,924.5 1361.39,925.07 1361.06,925.56 1360.57,925.89 1360,926 1326,926 1326,938.5 1325.89,939.07 1325.56,939.56 1325.07,939.89 1324.5,940 1321.5,940 1321.5,964.5 1321.39,965.07 1321.06,965.56 1320.57,965.89 1320,966 1280,966 1279.8,965.99 1278.64,965.83 1278.26,965.73 1277.18,965.28 1276.84,965.09 1275.9,964.37 1275.63,964.1 1274.91,963.16 1274.72,962.82 1274.27,961.74 1274.17,961.36 1274.01,960.2 1274,960 1274,926 1240,926 1239.8,925.99 1238.64,925.83 1238.26,925.73 1237.18,925.28 1236.84,925.09 1235.9,924.37 1235.63,924.1 1234.91,923.16 1234.72,922.82 1234.27,921.74 1234.17,921.36 1234.01,920.2 1234,920 1234,886 1200,886 1199.8,885.99 1198.64,885.83 1198.26,885.73 1197.18,885.28 1196.84,885.09 1195.9,884.37 1195.63,884.1 1194.91,883.16 1194.72,882.82 1194.27,881.74 1194.17,881.36 1194.01,880.2 1194,880 1194,846 1000,846 999.8,845.99 998.64,845.83 998.26,845.73 997.18,845.28 996.84,845.09 995.9,844.37 995.76,844.24 877.51,726 854.49,726 964.24,835.76 964.37,835.9 965.09,836.84 965.28,837.18 965.73,838.26 965.83,838.64 965.99,839.8 966,840 966,874 1040,874 1040.2,874.01 1041.36,874.17 1041.74,874.27 1042.82,874.72 1043.16,874.91 1044.1,875.63 1044.37,875.9 1045.09,876.84 1045.28,877.18 1045.73,878.26 1045.83,878.64 1045.99,879.8 1046,880 1046,898.5 1045.89,899.07 1045.56,899.56 1045.07,899.89 1044.5,900 1041.5,900 1041.5,924.5 1041.39,925.07 1041.06,925.56 1040.57,925.89 1040,926 1006,926 1006,938.5 1005.89,939.07 1005.56,939.56 1005.07,939.89 1004.5,940 1001.5,940 1001.5,964.5 1001.39,965.07 1001.06,965.56 1000.57,965.89 1000,966 966,966 966,978.5 965.89,979.07 965.56,979.56 965.07,979.89 964.5,980 961.5,980 961.5,1004.5 961.39,1005.07 961.06,1005.56 960.57,1005.89 960,1006 926,1006 926,1018.5 925.89,1019.07 925.56,1019.56 925.07,1019.89 924.5,1020 921.5,1020 921.5,1044.5 921.39,1045.07 921.06,1045.56 920.57,1045.89 920,1046 886,1046 886,1058.5 885.89,1059.07 885.56,1059.56 885.07,1059.89 884.5,1060 881.5,1060 881.5,1084.5 881.39,1085.07 881.06,1085.56 880.57,1085.89 880,1086 800,1086 799.8,1085.99 798.64,1085.83 798.26,1085.73 797.18,1085.28 796.84,1085.09 795.9,1084.37 795.76,1084.24 755.76,1044.24 755.63,1044.1 754.91,1043.16 754.72,1042.82 754.27,1041.74 754.17,1041.36 754.01,1040.2 754,1040 754,1006 726,1006 726,1040 725.89,1040.57 725.56,1041.06 725.07,1041.39 724.5,1041.5 722.56,1041.5 722.52,1041.71 722.19,1042.19 686,1078.38 686,1098.5 685.89,1099.07 685.56,1099.56 685.07,1099.89 684.5,1100 681.5,1100 681.5,1124.5 681.39,1125.07 681.06,1125.56 680.57,1125.89 680,1126 560,1126 559.8,1125.99 558.64,1125.83 558.26,1125.73 557.18,1125.28 556.84,1125.09 555.9,1124.37 555.63,1124.1 554.91,1123.16 554.72,1122.82 554.27,1121.74 554.17,1121.36 554.01,1120.2 554,1120 554,1082.49 515.76,1044.24 515.63,1044.1 514.91,1043.16 514.72,1042.82 514.27,1041.74 514.17,1041.36 514.01,1040.2 514,1040 514,1006 486,1006 486,1040 485.89,1040.57 485.56,1041.06 485.07,1041.39 484.5,1041.5 482.56,1041.5 482.52,1041.71 482.19,1042.19 442.19,1082.19 441.71,1082.52 441.5,1082.56 441.5,1084.5 441.39,1085.07 441.06,1085.56 440.57,1085.89 440,1086 360,1086 359.8,1085.99 358.64,1085.83 358.26,1085.73 357.18,1085.28 356.84,1085.09 355.9,1084.37 355.63,1084.1 354.91,1083.16 354.72,1082.82 354.27,1081.74 354.17,1081.36 354.01,1080.2 354,1080 354,1046 320,1046 319.8,1045.99 318.64,1045.83 318.26,1045.73 317.18,1045.28 316.84,1045.09 315.9,1044.37 315.63,1044.1 314.91,1043.16 314.72,1042.82 314.27,1041.74 314.17,1041.36 314.01,1040.2 314,1040 314,1006 280,1006 279.8,1005.99 278.64,1005.83 278.26,1005.73 277.18,1005.28 276.84,1005.09 275.9,1004.37 275.63,1004.1 274.91,1003.16 274.72,1002.82 274.27,1001.74 274.17,1001.36 274.01,1000.2 274,1000 274,966 120,966 119.8,965.99 118.64,965.83 118.26,965.73 117.18,965.28 116.84,965.09 115.9,964.37 115.76,964.24 75.76,924.24 75.63,924.1 74.91,923.16 74.72,922.82 74.27,921.74 74.17,921.36 74.01,920.2 74,920 74,886 40,886 39.8,885.99 38.64,885.83 38.26,885.73 37.18,885.28 36.84,885.09 35.9,884.37 35.63,884.1 34.91,883.16 34.72,882.82 34.27,881.74 34.17,881.36 34.01,880.2 34,880 34,800 34.01,799.8 34.17,798.64 34.27,798.26 34.72,797.18 34.91,796.84 35.63,795.9 35.76,795.76 71.51,760 35.76,724.24 35.63,724.1 34.91,723.16 34.72,722.82 34.27,721.74 34.17,721.36 34.01,720.2 34,720 34,600 34.01,599.8 34.17,598.64 34.27,598.26 34.72,597.18 34.91,596.84 35.63,595.9 35.76,595.76 75.76,555.76 114,517.51 114,400 114.01,399.8 114.17,398.64 114.27,398.26 114.72,397.18 114.91,396.84 115.63,395.9 115.76,395.76 155.76,355.76 155.9,355.63 156.84,354.91 157.18,354.72 158.26,354.27 158.64,354.17 159.8,354.01 160,354 280,354 280.2,354.01 281.36,354.17 281.74,354.27 282.82,354.72 283.16,354.91 284.1,355.63 284.24,355.76 322.49,394 477.51,394 515.76,355.76 515.9,355.63 516.84,354.91 517.18,354.72 518.26,354.27 518.64,354.17 519.8,354.01 520,354 585.51,354 555.76,324.24 517.51,286 438.38,286 362.19,362.19 361.71,362.52ZM2036.56,725.56 2036.07,725.89 2035.5,726 2034.93,725.89 2034.44,725.56 2034.11,725.07 2034,724.5 2034,640 2034.01,639.8 2034.17,638.64 2034.27,638.26 2034.72,637.18 2034.91,636.84 2035.63,635.9 2035.76,635.76 2075.76,595.76 2075.9,595.63 2076.84,594.91 2077.18,594.72 2078.26,594.27 2078.64,594.17 2079.8,594.01 2080.2,594.01 2081.36,594.17 2081.74,594.27 2082.82,594.72 2083.16,594.91 2084.1,595.63 2084.37,595.9 2085.09,596.84 2085.28,597.18 2085.73,598.26 2085.83,598.64 2085.99,599.8 2086,600 2086,680 2085.89,680.57 2085.56,681.06 2085.07,681.39 2084.5,681.5 2082.56,681.5 2082.52,681.71 2082.19,682.19 2046,718.38 2046,720 2045.89,720.57 2045.56,721.06 2045.07,721.39 2044.5,721.5 2042.88,721.5 2042.19,722.19 2041.71,722.52 2041.13,722.63 2040.56,722.52 2040.07,722.19 2040,722.12ZM1681.5,842.56 1681.5,844.5 1681.39,845.07 1681.06,845.56 1680.57,845.89 1680,846 1600,846 1599.8,845.99 1598.64,845.83 1598.26,845.73 1597.18,845.28 1596.84,845.09 1595.9,844.37 1595.63,844.1 1594.91,843.16 1594.72,842.82 1594.27,841.74 1594.17,841.36 1594.01,840.2 1594.01,839.8 1594.17,838.64 1594.27,838.26 1594.72,837.18 1594.91,836.84 1595.63,835.9 1595.76,835.76 1635.76,795.76 1635.9,795.63 1636.84,794.91 1637.18,794.72 1638.26,794.27 1638.64,794.17 1639.8,794.01 1640,794 1724.5,794 1725.07,794.11 1725.56,794.44 1725.89,794.93 1726,795.5 1725.89,796.07 1725.56,796.56 1722.12,800 1722.19,800.07 1722.52,800.56 1722.63,801.13 1722.52,801.71 1722.19,802.19 1721.5,802.88 1721.5,804.5 1721.39,805.07 1721.06,805.56 1720.57,805.89 1720,806 1718.38,806 1682.19,842.19 1681.71,842.52ZM1561.5,1084.5 1561.39,1085.07 1561.06,1085.56 1560.57,1085.89 1560,1086 1520,1086 1519.8,1085.99 1518.64,1085.83 1518.26,1085.73 1517.18,1085.28 1516.84,1085.09 1515.9,1084.37 1515.76,1084.24 1475.76,1044.24 1475.63,1044.1 1474.91,1043.16 1474.72,1042.82 1474.27,1041.74 1474.17,1041.36 1474.01,1040.2 1474,1040 1474,1000 1474.01,999.8 1474.17,998.64 1474.27,998.26 1474.72,997.18 1474.91,996.84 1475.63,995.9 1475.9,995.63 1476.84,994.91 1477.18,994.72 1478.26,994.27 1478.64,994.17 1479.8,994.01 1480,994 1520,994 1520.2,994.01 1521.36,994.17 1521.74,994.27 1522.82,994.72 1523.16,994.91 1524.1,995.63 1524.24,995.76 1564.24,1035.76 1564.37,1035.9 1565.09,1036.84 1565.28,1037.18 1565.73,1038.26 1565.83,1038.64 1565.99,1039.8 1566,1040 1566,1058.5 1565.89,1059.07 1565.56,1059.56 1565.07,1059.89 1564.5,1060 1561.5,1060ZM1357.18,965.28 1356.84,965.09 1355.9,964.37 1355.63,964.1 1354.91,963.16 1354.72,962.82 1354.27,961.74 1354.17,961.36 1354.01,960.2 1354.01,959.8 1354.17,958.64 1354.27,958.26 1354.72,957.18 1354.91,956.84 1355.63,955.9 1355.76,955.76 1395.76,915.76 1395.9,915.63 1396.84,914.91 1397.18,914.72 1398.26,914.27 1398.64,914.17 1399.8,914.01 1400,914 1440,914 1440.2,914.01 1441.36,914.17 1441.74,914.27 1442.82,914.72 1443.16,914.91 1444.1,915.63 1444.24,915.76 1484.24,955.76 1484.37,955.9 1485.09,956.84 1485.28,957.18 1485.73,958.26 1485.83,958.64 1485.99,959.8 1485.99,960.2 1485.83,961.36 1485.73,961.74 1485.28,962.82 1485.09,963.16 1484.37,964.1 1484.1,964.37 1483.16,965.09 1482.82,965.28 1481.74,965.73 1481.36,965.83 1480.2,965.99 1480,966 1360,966 1359.8,965.99 1358.64,965.83 1358.26,965.73ZM721.5,242.56 721.5,244.5 721.39,245.07 721.06,245.56 720.57,245.89 720,246 680,246 679.8,245.99 678.64,245.83 678.26,245.73 677.18,245.28 676.84,245.09 675.9,244.37 675.76,244.24 635.76,204.24 635.63,204.1 634.91,203.16 634.72,202.82 634.27,201.74 634.17,201.36 634.01,200.2 634.01,199.8 634.17,198.64 634.27,198.26 634.72,197.18 634.91,196.84 635.63,195.9 635.9,195.63 636.84,194.91 637.18,194.72 638.26,194.27 638.64,194.17 639.8,194.01 640,194 764.5,194 765.07,194.11 765.56,194.44 765.89,194.93 766,195.5 765.89,196.07 765.56,196.56 762.12,200 762.19,200.07 762.52,200.56 762.63,201.13 762.52,201.71 762.19,202.19 761.5,202.88 761.5,204.5 761.39,205.07 761.06,205.56 760.57,205.89 760,206 758.38,206 722.19,242.19 721.71,242.52ZM641.5,164.5 641.39,165.07 641.06,165.56 640.57,165.89 640,166 600,166 599.8,165.99 598.64,165.83 598.26,165.73 597.18,165.28 596.84,165.09 595.9,164.37 595.76,164.24 555.76,124.24 555.63,124.1 554.91,123.16 554.72,122.82 554.27,121.74 554.17,121.36 554.01,120.2 554,120 554,80 554.01,79.8 554.17,78.64 554.27,78.26 554.72,77.18 554.91,76.84 555.63,75.9 555.9,75.63 556.84,74.91 557.18,74.72 558.26,74.27 558.64,74.17 559.8,74.01 560,74 600,74 600.2,74.01 601.36,74.17 601.74,74.27 602.82,74.72 603.16,74.91 604.1,75.63 604.24,75.76 644.24,115.76 644.37,115.9 645.09,116.84 645.28,117.18 645.73,118.26 645.83,118.64 645.99,119.8 646,120 646,138.5 645.89,139.07 645.56,139.56 645.07,139.89 644.5,140 641.5,140ZM481.5,362.56 481.5,364.5 481.39,365.07 481.06,365.56 480.57,365.89 480,366 400,366 399.8,365.99 398.64,365.83 398.26,365.73 397.18,365.28 396.84,365.09 395.9,364.37 395.63,364.1 394.91,363.16 394.72,362.82 394.27,361.74 394.17,361.36 394.01,360.2 394.01,359.8 394.17,358.64 394.27,358.26 394.72,357.18 394.91,356.84 395.63,355.9 395.76,355.76 435.76,315.76 435.9,315.63 436.84,314.91 437.18,314.72 438.26,314.27 438.64,314.17 439.8,314.01 440,314 524.5,314 525.07,314.11 525.56,314.44 525.89,314.93 526,315.5 525.89,316.07 525.56,316.56 522.12,320 522.19,320.07 522.52,320.56 522.63,321.13 522.52,321.71 522.19,322.19 521.5,322.88 521.5,324.5 521.39,325.07 521.06,325.56 520.57,325.89 520,326 518.38,326 482.19,362.19 481.71,362.52ZM36.56,565.56 36.07,565.89 35.5,566 34.93,565.89 34.44,565.56 34.11,565.07 34,564.5 34,480 34.01,479.8 34.17,478.64 34.27,478.26 34.72,477.18 34.91,476.84 35.63,475.9 35.76,475.76 75.76,435.76 75.9,435.63 76.84,434.91 77.18,434.72 78.26,434.27 78.64,434.17 79.8,434.01 80.2,434.01 81.36,434.17 81.74,434.27 82.82,434.72 83.16,434.91 84.1,435.63 84.37,435.9 85.09,436.84 85.28,437.18 85.73,438.26 85.83,438.64 85.99,439.8 86,440 86,520 85.89,520.57 85.56,521.06 85.07,521.39 84.5,521.5 82.56,521.5 82.52,521.71 82.19,522.19 46,558.38 46,560 45.89,560.57 45.56,561.06 45.07,561.39 44.5,561.5 42.88,561.5 42.19,562.19 41.71,562.52 41.13,562.63 40.56,562.52 40.07,562.19 40,562.12ZM1802.49,474 1825.51,474 1797.51,446 1774.49,446ZM1681.5,524.5 1681.39,525.07 1681.06,525.56 1680.57,525.89 1680,526 1646,526 1646,554 1754,554 1754,522.49 1717.51,486 1686,486 1686,498.5 1685.89,499.07 1685.56,499.56 1685.07,499.89 1684.5,500 1681.5,500ZM1366,526 1366,545.51 1385.51,526ZM754,610.38 730.38,634 754,634ZM438.26,634.27 438.64,634.17 439.8,634.01 440,634 474,634 474,606 366,606 366,637.51 402.49,674 434,674 434,640 434.01,639.8 434.17,638.64 434.27,638.26 434.72,637.18 434.91,636.84 435.63,635.9 435.9,635.63 436.84,634.91 437.18,634.72ZM322.49,714 345.51,714 317.51,686 294.49,686Z" fill="none" stroke="#5b5a61" stroke-opacity=".55" stroke-width="1" stroke-linejoin="round"/>
<path d="M1415.5,36h4.5v23.5h-4.5zM535.5,76h4.5v23.5h-4.5zM1215.5,76h4.5v23.5h-4.5zM495.5,116h4.5v23.5h-4.5zM1175.5,116h4.5v23.5h-4.5zM655.5,156h4.5v23.5h-4.5zM1135.5,156h4.5v23.5h-4.5zM1095.5,196h4.5v23.5h-4.5zM1055.5,276h4.5v23.5h-4.5zM255.5,316h4.5v23.5h-4.5zM1695.5,516h4.5v23.5h-4.5zM1415.5,876h4.5v23.5h-4.5zM1055.5,916h4.5v23.5h-4.5zM1375.5,916h4.5v4h-4.5zM1015.5,956h4.5v23.5h-4.5zM1335.5,956h4.5v23.5h-4.5zM975.5,996h4.5v23.5h-4.5zM935.5,1036h4.5v23.5h-4.5zM895.5,1076h4.5v23.5h-4.5zM1575.5,1076h4.5v23.5h-4.5zM695.5,1116h4.5v23.5h-4.5z" fill="#29292d" stroke="#3b3a40" stroke-width=".8"/>
<use href="#bomb" x="580" y="100"/>
<use href="#bomb" x="1540" y="1060"/>
<use href="#bomb" x="620" y="140"/>
<use href="#bomb" x="1500" y="1020"/>
<use href="#bomb" x="2060" y="300"/>
<use href="#bomb" x="60" y="860"/>
<use href="#coin" x="500" y="180"/>
<use href="#coin" x="1620" y="980"/>
<use href="#coin" x="1220" y="460"/>
<use href="#coin" x="900" y="700"/>
<use href="#yball" x="340" y="260"/>
<use href="#yball" x="1780" y="900"/>
<use href="#yball" x="380" y="300"/>
<use href="#yball" x="1740" y="860"/>
<use href="#yball" x="1460" y="60"/>
<use href="#yball" x="660" y="1100"/>
<use href="#yball" x="1500" y="60"/>
<use href="#yball" x="620" y="1100"/>
<use href="#yball" x="1540" y="60"/>
<use href="#yball" x="580" y="1100"/>
<use href="#yball" x="1140" y="220"/>
<use href="#yball" x="980" y="940"/>
<use href="#yball" x="1140" y="260"/>
<use href="#yball" x="980" y="900"/>
<use href="#gball" x="380" y="260"/>
<use href="#gball" x="1740" y="900"/>
<use href="#gear" x="820" y="220"/>
<use href="#gear" x="1300" y="940"/>
<use href="#gear" x="1100" y="260"/>
<use href="#gear" x="1020" y="900"/>
<use href="#ghost" x="420" y="420"/>
<use href="#ghost" x="1700" y="740"/>
<use href="#ghost" x="1500" y="180"/>
<use href="#ghost" x="620" y="980"/>
<use href="#ghost" x="1660" y="500"/>
<use href="#ghost" x="460" y="660"/>
<use href="#rblock" x="1460" y="100"/>
<use href="#bblock" x="660" y="1060"/>
<use href="#rblock" x="1500" y="100"/>
<use href="#bblock" x="620" y="1060"/>
<use href="#rblock" x="1540" y="100"/>
<use href="#bblock" x="580" y="1060"/>
<use href="#bblock" x="1300" y="460"/>
<use href="#rblock" x="820" y="700"/>
<use href="#bblock" x="1340" y="500"/>
<use href="#rblock" x="780" y="660"/>
<use href="#yarrow" x="1020" y="340"/>
<use href="#yarrow" x="1100" y="820"/>
<use href="#yarrow" x="1740" y="460"/>
<use href="#yarrow" x="380" y="700"/>
<use href="#tarrow" x="1980" y="500"/>
<use href="#oarrow" x="140" y="660"/>
<use href="#flag" x="1060" y="580"/>
</svg>
</body></html>
